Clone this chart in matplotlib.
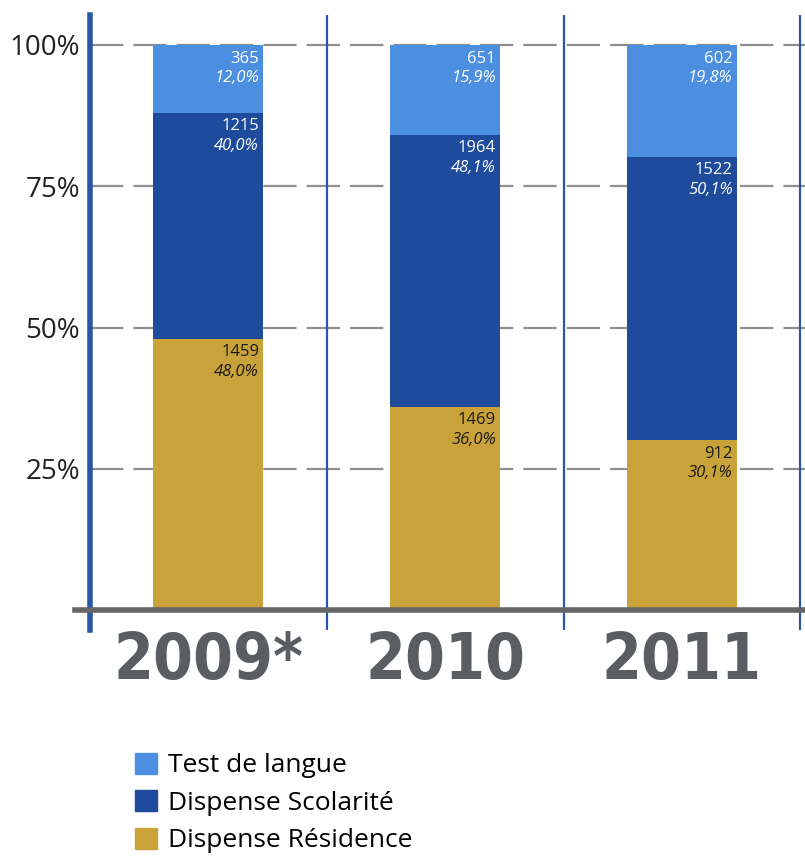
import matplotlib
matplotlib.use("Agg")
import matplotlib.pyplot as plt
from matplotlib.patches import Patch

plt.rcParams['font.family'] = ['Open Sans', 'DejaVu Sans']

# donnees
annees = ['2009*', '2010', '2011']
residence_pct = [48.0, 36.0, 30.1]
scolarite_pct = [40.0, 48.1, 50.1]
langue_pct = [12.0, 15.9, 19.8]
residence_n = [1459, 1469, 912]
scolarite_n = [1215, 1964, 1522]
langue_n = [365, 651, 602]
pct_labels = ['25%', '50%', '75%', '100%']
pct_ticks = [25, 50, 75, 100]

c_langue = '#4c8fe0'
c_scol = '#1e4b9c'
c_resid = '#c9a23a'
c_sep = '#2a56a6'

fig = plt.figure(figsize=(8.05, 8.59), dpi=100)
ax = fig.add_axes([90 / 805, 229 / 859, 715 / 805, 615 / 859])

x = list(range(len(annees)))
w = 0.464

# grille en tirets
for t in pct_ticks:
    ax.axhline(t, color='#8f8f8f', lw=1.6, ls=(0, (15, 4.5)), zorder=1)

# separateurs verticaux
ax.axvline(-0.5, color=c_sep, lw=4, zorder=3, clip_on=False)
for s in [0.5, 1.5, 2.5]:
    ax.axvline(s, color=c_sep, lw=1.6, zorder=3)

b1 = ax.bar(x, residence_pct, w, color=c_resid, zorder=2)
b2 = ax.bar(x, scolarite_pct, w, bottom=residence_pct, color=c_scol, zorder=2)
bottom3 = [a + b for a, b in zip(residence_pct, scolarite_pct)]
b3 = ax.bar(x, langue_pct, w, bottom=bottom3, color=c_langue, zorder=2)

# ligne de base
ax.axhline(0, xmin=-0.021, xmax=1, color='#666666', lw=4, zorder=4, clip_on=False)

def etiquettes(bottoms, vals, nums, couleur):
    for i in x:
        top = bottoms[i] + vals[i]
        ax.annotate(str(nums[i]), xy=(i + w / 2, top), xytext=(-3, -4),
                    textcoords='offset points', ha='right', va='top',
                    fontsize=12, color=couleur, zorder=5)
        ax.annotate(('%.1f%%' % vals[i]).replace('.', ','), xy=(i + w / 2, top),
                    xytext=(-3, -18), textcoords='offset points', ha='right',
                    va='top', fontsize=12, style='italic', color=couleur, zorder=5)

etiquettes([0, 0, 0], residence_pct, residence_n, '#1a1a1a')
etiquettes(residence_pct, scolarite_pct, scolarite_n, 'white')
etiquettes(bottom3, langue_pct, langue_n, 'white')

ax.set_xlim(-0.5, 2.52)
ax.set_ylim(-3.5, 105.3)
ax.set_yticks(pct_ticks)
ax.set_yticklabels(pct_labels, fontsize=20, color='#222222')
ax.tick_params(axis='y', length=0, pad=7)
ax.set_xticks([])
for sp in ax.spines.values():
    sp.set_visible(False)

# annees
for i, a in enumerate(annees):
    ax.annotate(a, xy=(i, -3.5), xytext=(0, 0), textcoords='offset points',
                ha='center', va='top', fontsize=46, fontweight='bold',
                fontstretch='condensed', family=['DejaVu Sans'],
                color='#5a5d62', annotation_clip=False)

handles = [Patch(color=c_langue), Patch(color=c_scol), Patch(color=c_resid)]
fig.legend(handles, ['Test de langue', 'Dispense Scolarité', 'Dispense Résidence'],
           loc='upper left', bbox_to_anchor=(124 / 805, 1 - 742 / 859),
           frameon=False, fontsize=19, handlelength=0.85, handleheight=0.85,
           handletextpad=0.4, labelspacing=0.45, borderaxespad=0)

fig.savefig('out.png', dpi=100)
